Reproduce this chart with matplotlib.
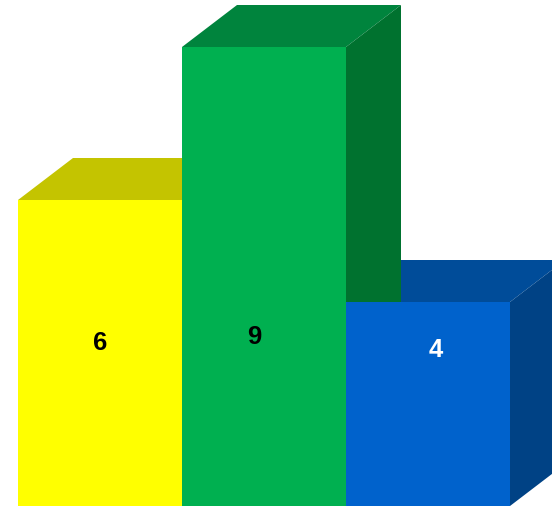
import matplotlib
matplotlib.use("Agg")
import matplotlib.pyplot as plt
from matplotlib.patches import Polygon

# bar data
values = [6, 9, 4]
labels = ["6", "9", "4"]
front_colors = ["#FFFF00", "#00B050", "#0062CC"]
top_colors = ["#C4C400", "#00843D", "#004C99"]
side_colors = ["#A3A300", "#00722F", "#004285"]
label_colors = ["black", "black", "white"]
label_x = [0.5, 1.44, 2.545]
label_y = [3.2, 3.31, 3.05]

# oblique depth of the 3D boxes (in data units)
DX = 55 / 164
DY = 42 / 51

fig = plt.figure(figsize=(5.52, 5.08), dpi=100)
ax = fig.add_axes([0, 0, 1, 1])
ax.set_xlim(-18 / 164, (552 - 18) / 164)
ax.set_ylim(-2 / 51, 506 / 51)
ax.axis("off")

n = len(values)
for i, v in enumerate(values):
    x0, x1 = i, i + 1
    # top face and right side, drawn so left bars overlap right bars
    top = Polygon([(x0, v), (x1, v), (x1 + DX, v + DY), (x0 + DX, v + DY)],
                  closed=True, facecolor=top_colors[i], edgecolor="none",
                  zorder=n - i)
    side = Polygon([(x1, 0), (x1 + DX, DY), (x1 + DX, v + DY), (x1, v)],
                   closed=True, facecolor=side_colors[i], edgecolor="none",
                   zorder=n - i)
    front = Polygon([(x0, 0), (x1, 0), (x1, v), (x0, v)],
                    closed=True, facecolor=front_colors[i], edgecolor="none",
                    zorder=10)
    ax.add_patch(top)
    ax.add_patch(side)
    ax.add_patch(front)
    ax.text(label_x[i], label_y[i], labels[i], ha="center", va="center",
            fontsize=18.5, fontweight="bold", family="Liberation Sans",
            color=label_colors[i], zorder=20)

fig.savefig("out.png", dpi=100)
